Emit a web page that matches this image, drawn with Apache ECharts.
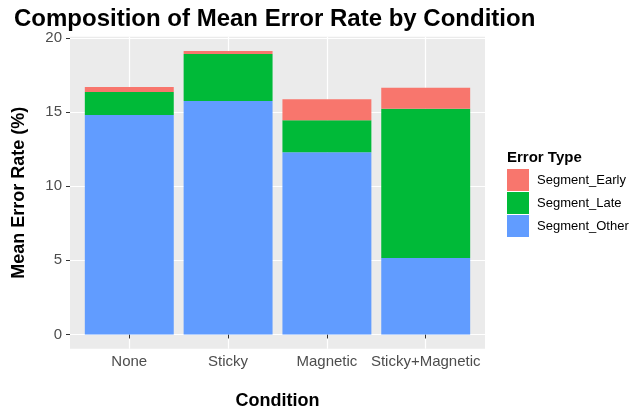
<!DOCTYPE html>
<html><head><meta charset="utf-8">
<script src="https://cdn.jsdelivr.net/npm/echarts@6/dist/echarts.min.js"></script>
<style>html,body{margin:0;padding:0;background:#fff}#c{width:643px;height:417px}</style>
</head><body><div id="c"></div>
<script>
const categories = ['None', 'Sticky', 'Magnetic', 'Sticky+Magnetic'];
const segmentOther = [14.8, 15.75, 12.3, 5.15];
const segmentLate = [1.55, 3.17, 2.15, 10.08];
const segmentEarly = [0.34, 0.2, 1.42, 1.41];
const yTicks = [0, 5, 10, 15, 20];
const xTicks = [1, 2, 3, 4];
const legendOrder = ['Segment_Early', 'Segment_Late', 'Segment_Other'];

const FONT = 'Liberation Sans';
const chart = echarts.init(document.getElementById('c'), null, {renderer: 'canvas'});

// [value, position] so the value dimension comes first and is the stacked one
function toPoints(vals) { return vals.map((v, i) => [v, xTicks[i]]); }

function barSeries(name, vals, color) {
  return {name: name, type: 'bar', stack: 'err', barWidth: '90%',
          dimensions: ['val', 'pos'], encode: {x: 'pos', y: 'val'},
          data: toPoints(vals), itemStyle: {color: color}};
}

const option = {
  backgroundColor: '#ffffff',
  animation: false,
  title: [
    {text: 'Composition of Mean Error Rate by Condition', left: 14, top: 7, padding: 0,
     textStyle: {fontFamily: FONT, fontSize: 24, fontWeight: 'bold', color: '#000'}},
    {text: 'Error Type', left: 507, top: 150, padding: 0,
     textStyle: {fontFamily: FONT, fontSize: 15, fontWeight: 'bold', color: '#000'}}
  ],
  legend: {
    data: legendOrder, orient: 'vertical', left: 507, top: 169, padding: 0,
    itemWidth: 22, itemHeight: 22, itemGap: 1, icon: 'rect',
    textStyle: {fontFamily: FONT, fontSize: 13, color: '#000', padding: [0, 0, 0, 3]}
  },
  grid: {left: 70, right: 158, top: 36.8, bottom: 68.3, show: true,
         backgroundColor: '#EBEBEB', borderWidth: 0, containLabel: false},
  xAxis: {
    type: 'value', min: 0.4, max: 4.6,
    name: 'Condition', nameLocation: 'middle', nameGap: 43,
    nameTextStyle: {fontFamily: FONT, fontSize: 18, fontWeight: 'bold', color: '#000'},
    axisLine: {show: false},
    axisTick: {show: true, length: 4, lineStyle: {color: '#333', width: 1}, customValues: xTicks},
    axisLabel: {customValues: xTicks, margin: 6,
      fontFamily: FONT, fontSize: 15, color: '#4D4D4D',
      formatter: v => categories[Math.round(v) - 1] || ''},
    splitLine: {show: true, lineStyle: {color: '#fff', width: 1.2}}
  },
  yAxis: {
    type: 'value', min: -0.96, max: 20.08,
    name: 'Mean Error Rate (%)', nameLocation: 'middle', nameGap: 42,
    nameTextStyle: {fontFamily: FONT, fontSize: 18, fontWeight: 'bold', color: '#000'},
    axisLine: {show: false},
    axisTick: {show: true, length: 4, lineStyle: {color: '#333', width: 1}, customValues: yTicks},
    axisLabel: {customValues: yTicks, margin: 8,
      fontFamily: FONT, fontSize: 15, color: '#4D4D4D'},
    splitLine: {show: true, lineStyle: {color: '#fff', width: 1.2}}
  },
  series: [
    barSeries('Segment_Other', segmentOther, '#619CFF'),
    barSeries('Segment_Late', segmentLate, '#00BA38'),
    barSeries('Segment_Early', segmentEarly, '#F8766D')
  ]
};
chart.setOption(option);
</script></body></html>
